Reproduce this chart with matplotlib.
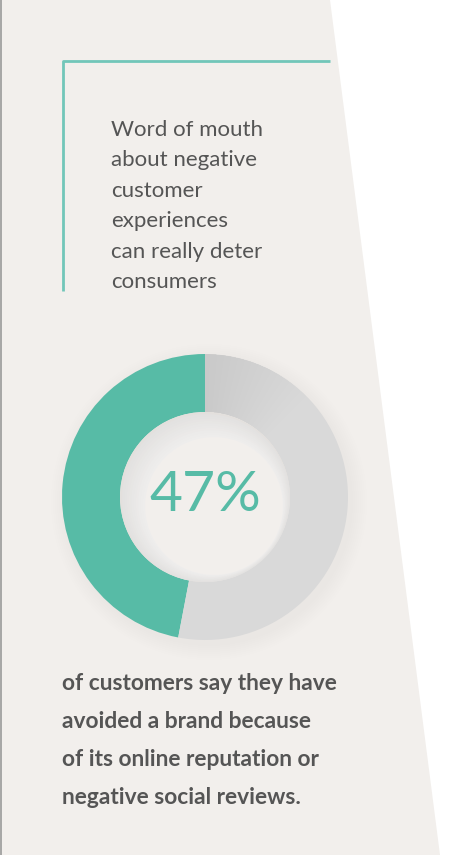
"""
Recreate the '47% avoided a brand' donut infographic.
Axes are in pixel units (0..460 x 0..855, y pointing up).
"""

import numpy as np
import matplotlib.pyplot as plt
from matplotlib.patches import Polygon, Wedge, Circle

# ---- data -------------------------------------------------------------
shares = [47, 53]                  # avoided brand / other
share_labels = ["avoided", "other"]
headline = "47%"
intro_lines = [
    "Word of mouth",
    "about negative",
    "customer",
    "experiences",
    "can really deter",
    "consumers",
]
body_lines = [
    "of customers say they have",
    "avoided a brand because",
    "of its online reputation or",
    "negative social reviews.",
]

TEAL = "#57bba6"
LINE_TEAL = "#72c6b9"
RING_GREY = "#d9d9d9"
BG = "#f2efec"
TEXT = "#555555"

W, H = 460, 855


def main() -> None:
    fig = plt.figure(figsize=(W / 100, H / 100), dpi=100)
    fig.patch.set_facecolor("white")
    ax = fig.add_axes([0, 0, 1, 1])

    # beige panel with slanted right edge
    ax.add_patch(Polygon([(0, H), (330, H), (440, 0), (0, 0)],
                         closed=True, facecolor=BG, edgecolor="none", zorder=0))
    ax.plot([0.6, 0.6], [0, H], color="#9a9a9a", lw=1.2, zorder=1)

    # teal corner bracket
    ax.plot([63, 63, 330], [H - 291, H - 61, H - 61],
            color=LINE_TEAL, lw=2, solid_capstyle="butt", zorder=2)

    # intro text
    for i, line in enumerate(intro_lines):
        ax.text(111, H - (130 + i * 30.4), line, fontsize=16,
                family="Lato", color=TEXT, va="center", ha="left")

    # donut
    cx, cy, r_out, r_in = 205, H - 497, 143, 85

    # very soft drop shadow
    for k in range(8):
        ax.add_patch(Circle((cx + 4, cy - 5), r_out + 1 + 2 * k,
                            facecolor="black", edgecolor="none", alpha=0.004, zorder=2))

    ax.pie(shares, labels=None, colors=[TEAL, RING_GREY], startangle=90,
           counterclock=True, radius=r_out, center=(cx, cy),
           wedgeprops=dict(width=r_out - r_in, edgecolor="none", zorder=3))

    # shading fold at the top of the grey ring
    for a0 in np.linspace(45, 88, 16):
        ax.add_patch(Wedge((cx, cy), r_out, a0, 90, width=r_out - r_in,
                           facecolor="black", edgecolor="none", alpha=0.005, zorder=4))

    # inner disc with a soft inset shade at the upper left
    ax.add_patch(Circle((cx, cy), r_in, facecolor="#e3e0dd", edgecolor="none", zorder=4))
    for k in range(10):
        shade = 0.89 + 0.005 * k
        ax.add_patch(Circle((cx + 1 + 0.8 * k, cy - 1 - 0.8 * k), r_in - 1 - 1.5 * k,
                            facecolor=(shade, shade * 0.995, shade * 0.99),
                            edgecolor="none", zorder=4))
    ax.add_patch(Circle((cx + 9, cy - 9), r_in - 16, facecolor=BG,
                        edgecolor="none", zorder=4))

    ax.text(cx, cy + 2, headline, fontsize=41, family="Lato",
            color=TEAL, ha="center", va="center", zorder=5)

    # body text
    for i, line in enumerate(body_lines):
        ax.text(62, H - (683 + i * 38.3), line, fontsize=16.4,
                family="Lato", fontweight="bold", color=TEXT,
                va="center", ha="left")

    ax.set_xlim(0, W)
    ax.set_ylim(0, H)
    ax.set_aspect("auto")
    ax.axis("off")

    fig.savefig("out.png", dpi=100, facecolor=fig.get_facecolor())


if __name__ == "__main__":
    main()
